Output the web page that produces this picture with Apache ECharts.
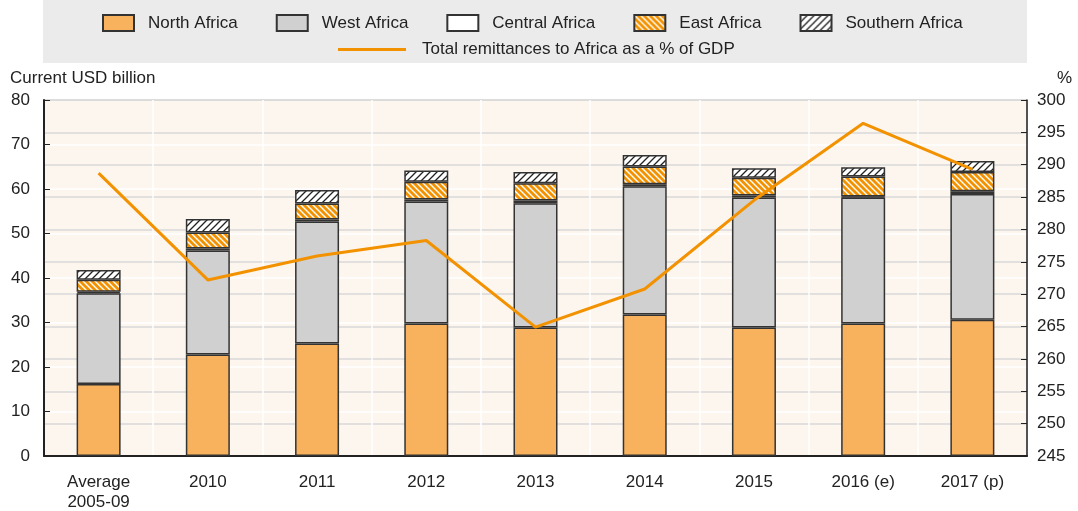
<!DOCTYPE html>
<html>
<head>
<meta charset="utf-8">
<script src="https://cdn.jsdelivr.net/npm/echarts@6/dist/echarts.min.js"></script>
<style>
  html, body { margin: 0; padding: 0; background: #fff; }
  #main { width: 1078px; height: 511px; }
</style>
</head>
<body>
<div id="main"></div>
<script>
const categories = ['Average\n2005-09', '2010', '2011', '2012', '2013', '2014', '2015', '2016 (e)', '2017 (p)'];
const northAfrica = [16.2, 22.8, 25.3, 29.8, 28.9, 31.8, 28.9, 29.8, 30.6];
const westAfrica = [20.4, 23.4, 27.4, 27.4, 27.9, 28.8, 29.2, 28.3, 28.3];
const centralAfrica = [0.3, 0.45, 0.45, 0.45, 0.6, 0.45, 0.45, 0.2, 0.6];
const eastAfrica = [2.7, 3.6, 3.6, 4.0, 3.9, 4.0, 4.0, 4.5, 4.3];
const southernAfrica = [2.2, 3.0, 3.0, 2.5, 2.5, 2.6, 2.1, 2.1, 2.5];
const remittancePct = [288.7, 272.2, 275.9, 278.3, 264.9, 270.8, 284.5, 296.4, 289.3];

const FONT = '"Liberation Sans", Arial, sans-serif';

// hatch pattern, dir '/' or '\'
function hatch(bg, fg, size, dir, lw) {
  const c = document.createElement('canvas');
  c.width = size; c.height = size;
  const ctx = c.getContext('2d');
  ctx.fillStyle = bg;
  ctx.fillRect(0, 0, size, size);
  ctx.strokeStyle = fg;
  ctx.lineWidth = lw;
  ctx.beginPath();
  if (dir === '/') {
    ctx.moveTo(-1, 1); ctx.lineTo(1, -1);
    ctx.moveTo(0, size); ctx.lineTo(size, 0);
    ctx.moveTo(size - 1, size + 1); ctx.lineTo(size + 1, size - 1);
  } else {
    ctx.moveTo(-1, size - 1); ctx.lineTo(1, size + 1);
    ctx.moveTo(0, 0); ctx.lineTo(size, size);
    ctx.moveTo(size - 1, -1); ctx.lineTo(size + 1, 1);
  }
  ctx.stroke();
  return { image: c, repeat: 'repeat' };
}

const barBorder = { borderColor: '#333', borderWidth: 1.5 };

function barSeries(name, data, color) {
  return {
    name: name,
    type: 'bar',
    stack: 'total',
    barWidth: 44,
    data: data,
    itemStyle: Object.assign({ color: color }, barBorder)
  };
}

const chart = echarts.init(document.getElementById('main'), null, { renderer: 'canvas' });

chart.setOption({
  animation: false,
  textStyle: { fontFamily: FONT },
  graphic: [
    { type: 'rect', shape: { x: 43, y: 0, width: 984, height: 63 }, style: { fill: '#ebebeb' }, z: -10 },
    { type: 'text', left: 10, top: 70, style: { text: 'Current USD billion', font: '17px ' + FONT, fill: '#222' } },
    { type: 'text', left: 1057, top: 70, style: { text: '%', font: '17px ' + FONT, fill: '#222' } }
  ],
  legend: [
    {
      data: ['North Africa', 'West Africa', 'Central Africa', 'East Africa', 'Southern Africa'],
      left: 97, top: 9,
      icon: 'rect',
      itemWidth: 31, itemHeight: 16,
      itemGap: 38,
      textStyle: { fontSize: 17, color: '#222', fontFamily: FONT, padding: [0, 0, 0, 9] }
    },
    {
      data: ['Total remittances to Africa as a % of GDP'],
      left: 333, top: 36,
      icon: 'rect',
      itemWidth: 68, itemHeight: 3,
      textStyle: { fontSize: 17, color: '#222', fontFamily: FONT, padding: [0, 0, 0, 11] }
    }
  ],
  grid: {
    left: 44, right: 51, top: 100, bottom: 55,
    outerBoundsMode: 'none',
    containLabel: false,
    show: true,
    backgroundColor: '#fdf6ef',
    borderColor: '#333',
    borderWidth: 1
  },
  xAxis: {
    type: 'category',
    data: categories,
    axisLine: { lineStyle: { color: '#222', width: 2 } },
    axisTick: { inside: true, length: 6, lineStyle: { color: '#444' } },
    splitLine: { show: true, lineStyle: { color: '#ffffff', width: 1.5 } },
    axisLabel: { fontSize: 17, color: '#222', margin: 16, lineHeight: 20, fontFamily: FONT }
  },
  yAxis: [
    {
      type: 'value',
      min: 0, max: 80, interval: 10,
      axisLine: { show: true, lineStyle: { color: '#222', width: 2 } },
      axisTick: { show: true, inside: true, length: 6, lineStyle: { color: '#222' } },
      splitLine: { show: true, lineStyle: { color: '#ffffff', width: 1.5 } },
      axisLabel: { fontSize: 17, color: '#222', margin: 14, fontFamily: FONT }
    },
    {
      type: 'value',
      min: 245, max: 300, interval: 5,
      position: 'right',
      axisLine: { show: true, lineStyle: { color: '#222', width: 1.5 } },
      axisTick: { show: true, inside: true, length: 6, lineStyle: { color: '#222' } },
      splitLine: { show: true, lineStyle: { color: '#d9d9d9', width: 1.5 } },
      axisLabel: { fontSize: 17, color: '#222', margin: 10, fontFamily: FONT }
    }
  ],
  series: [
    barSeries('North Africa', northAfrica, '#f8b25e'),
    barSeries('West Africa', westAfrica, '#d0d0d0'),
    barSeries('Central Africa', centralAfrica, '#ffffff'),
    barSeries('East Africa', eastAfrica, hatch('#f39200', '#ffffff', 6, '\\', 1.4)),
    barSeries('Southern Africa', southernAfrica, hatch('#ffffff', '#222222', 7, '/', 1.3)),
    {
      name: 'Total remittances to Africa as a % of GDP',
      type: 'line',
      yAxisIndex: 1,
      data: remittancePct,
      symbol: 'none',
      z: 5,
      itemStyle: { color: '#f39200' },
      lineStyle: { color: '#f39200', width: 3 }
    }
  ]
});
</script>
</body>
</html>
